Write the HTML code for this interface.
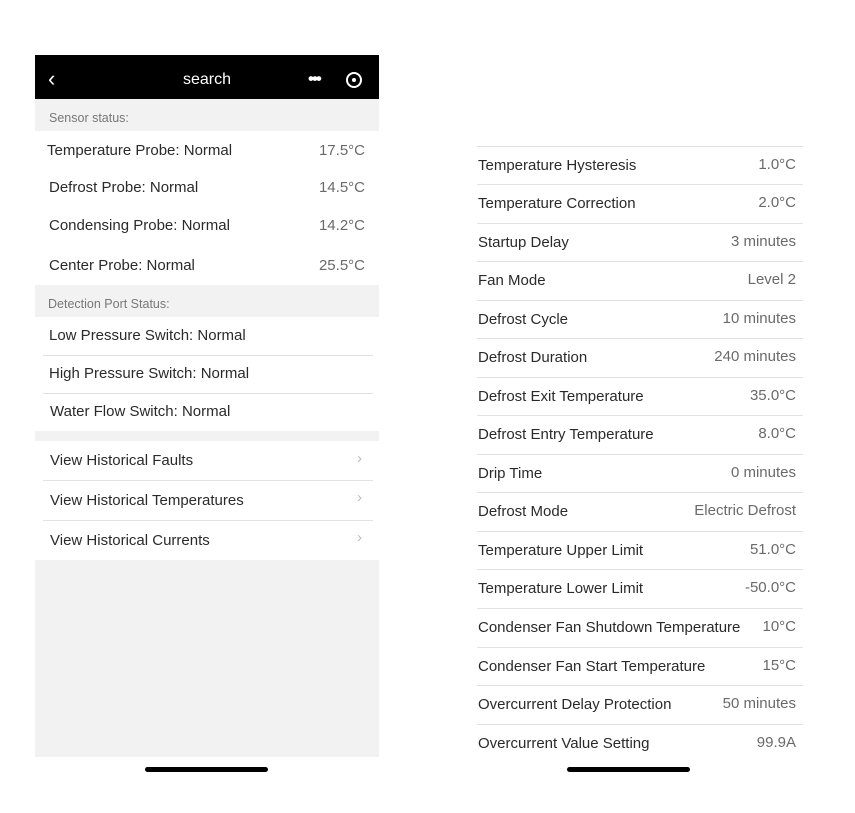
<!DOCTYPE html>
<html><head><meta charset="utf-8"><style>
body{margin:0;width:855px;height:813px;background:#fff;font-family:"Liberation Sans",sans-serif;position:relative;overflow:hidden}
div{position:absolute}
.t{font-size:15px;color:#2a2a2a;line-height:20px}
.v{font-size:15px;color:#6a6a6a;line-height:20px;text-align:right}
.s{font-size:12.5px;color:#777;line-height:16px}
.ln{height:1px;background:#e2e2e2}
.ch{color:#bbb;font-size:15px}
</style></head><body>
<div style="left:35px;top:55px;width:344px;height:44px;background:#000"></div>
<div style="left:48px;top:68px;color:#fff;font-size:22px;line-height:22px">‹</div>
<div style="left:35px;top:71px;width:344px;text-align:center;color:#fff;font-size:16px">search</div>
<div style="left:308px;top:69px;color:#fff;font-size:17px;font-weight:bold;letter-spacing:-2px">•••</div>
<div style="left:346px;top:72px;width:12px;height:12px;border:2px solid #fff;border-radius:50%"></div>
<div style="left:352px;top:78px;width:4px;height:4px;background:#fff;border-radius:50%"></div>
<div style="left:35px;top:99px;width:344px;height:32px;background:#f2f2f2"></div>
<div class="s" style="left:49px;top:110px">Sensor status:</div>
<div class="t" style="left:47px;top:141px">Temperature Probe: Normal</div><div class="v" style="left:280px;width:85px;top:141px">17.5°C</div>
<div class="t" style="left:49px;top:178px">Defrost Probe: Normal</div><div class="v" style="left:280px;width:85px;top:178px">14.5°C</div>
<div class="t" style="left:49px;top:216px">Condensing Probe: Normal</div><div class="v" style="left:280px;width:85px;top:216px">14.2°C</div>
<div class="t" style="left:49px;top:256px">Center Probe: Normal</div><div class="v" style="left:280px;width:85px;top:256px">25.5°C</div>
<div style="left:35px;top:285px;width:344px;height:32px;background:#f2f2f2"></div>
<div class="s" style="left:48px;top:296px">Detection Port Status:</div>
<div class="t" style="left:49px;top:326px">Low Pressure Switch: Normal</div>
<div class="ln" style="left:43px;top:355px;width:330px"></div>
<div class="t" style="left:49px;top:364px">High Pressure Switch: Normal</div>
<div class="ln" style="left:43px;top:393px;width:330px"></div>
<div class="t" style="left:50px;top:402px">Water Flow Switch: Normal</div>
<div style="left:35px;top:431px;width:344px;height:10px;background:#f2f2f2"></div>
<div class="t" style="left:50px;top:451px">View Historical Faults</div><div class="ch" style="left:357px;top:450px">›</div>
<div class="ln" style="left:43px;top:480px;width:330px"></div>
<div class="t" style="left:50px;top:491px">View Historical Temperatures</div><div class="ch" style="left:357px;top:489px">›</div>
<div class="ln" style="left:43px;top:520px;width:330px"></div>
<div class="t" style="left:50px;top:531px">View Historical Currents</div><div class="ch" style="left:357px;top:529px">›</div>
<div style="left:35px;top:560px;width:344px;height:197px;background:#f2f2f2"></div>
<div style="left:145px;top:767px;width:123px;height:5px;background:#000;border-radius:3px"></div>
<div style="left:567px;top:767px;width:123px;height:5px;background:#000;border-radius:3px"></div>
<script>
var L=[146,184,223,261,300,338,377,415,454,492,531,569,608,647,685,724];
var D=[["Temperature Hysteresis","1.0°C"],["Temperature Correction","2.0°C"],["Startup Delay","3 minutes"],["Fan Mode","Level 2"],["Defrost Cycle","10 minutes"],["Defrost Duration","240 minutes"],["Defrost Exit Temperature","35.0°C"],["Defrost Entry Temperature","8.0°C"],["Drip Time","0 minutes"],["Defrost Mode","Electric Defrost"],["Temperature Upper Limit","51.0°C"],["Temperature Lower Limit","-50.0°C"],["Condenser Fan Shutdown Temperature","10°C"],["Condenser Fan Start Temperature","15°C"],["Overcurrent Delay Protection","50 minutes"],["Overcurrent Value Setting","99.9A"]];
var h="";
for(var i=0;i<L.length;i++){h+='<div class="ln" style="left:477px;top:'+L[i]+'px;width:326px"></div>';}
for(var i=0;i<D.length;i++){var y=L[i]+10;
h+='<div class="t" style="left:478px;top:'+y+'px">'+D[i][0]+'</div><div class="v" style="left:600px;width:196px;top:'+(y-1)+'px">'+D[i][1]+'</div>';}
document.body.insertAdjacentHTML("beforeend",h);
</script>
</body></html>
